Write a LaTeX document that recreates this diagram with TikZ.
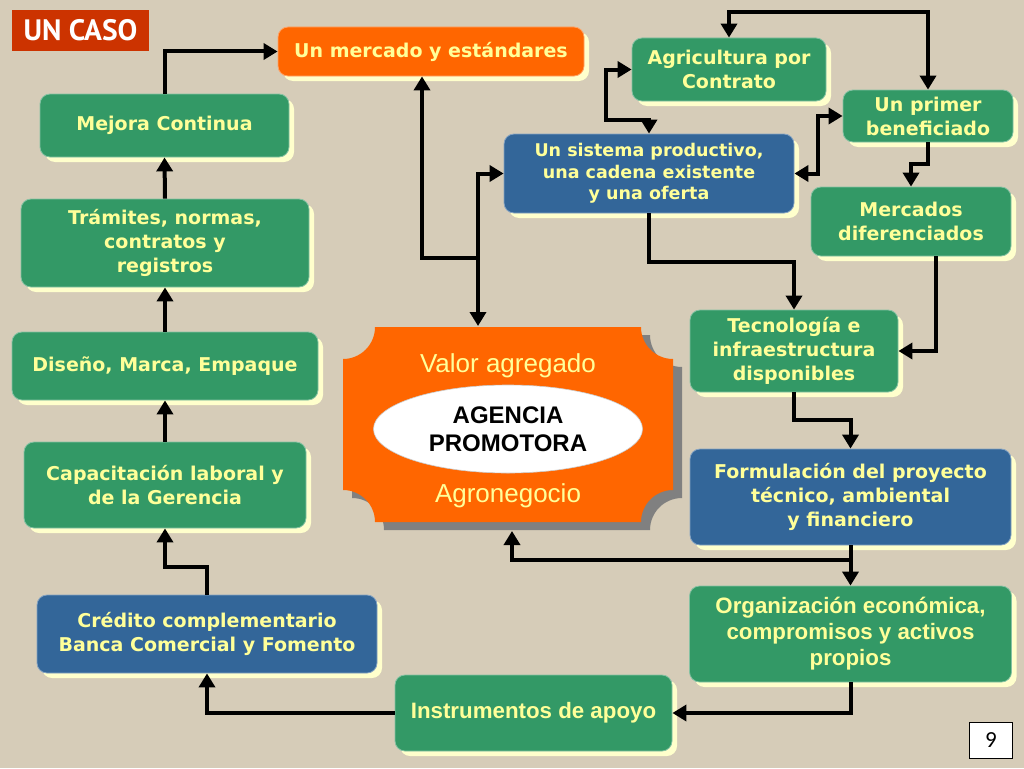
\documentclass[tikz,border=0pt]{standalone}
\usepackage{fontspec}
\setmainfont{DejaVu Sans}
\newfontfamily\arialf{Liberation Sans}
\newfontfamily\ptsans{PT Sans}
\newfontfamily\calib{Carlito}
\usetikzlibrary{arrows.meta,shadows,shapes.geometric}
\definecolor{bgc}{RGB}{214,204,184}
\definecolor{grn}{RGB}{51,153,102}
\definecolor{blu}{RGB}{51,102,153}
\definecolor{org}{RGB}{255,102,0}
\definecolor{txty}{RGB}{255,255,153}
\definecolor{shy}{RGB}{255,255,204}
\definecolor{redc}{RGB}{204,51,0}
\definecolor{shgray}{RGB}{128,128,128}
\begin{document}
\begin{tikzpicture}[x=1pt,y=-1pt,
  box/.style={rounded corners=10pt, line width=0.8pt, text=txty, align=center, inner sep=0pt,
    font=\bfseries\fontsize{19}{24}\selectfont,
    drop shadow={shadow xshift=5pt, shadow yshift=-5pt, fill=shy, opacity=1}},
  gbox/.style={box, fill=grn, draw=grn!60!white},
  bbox/.style={box, fill=blu, draw=blu!60!white},
  obox/.style={box, fill=org, draw=org!60!white},
  sz/.style 2 args={minimum width=#1pt, minimum height=#2pt},
  arialbox/.style={font=\arialf\bfseries\fontsize{22.3}{26}\selectfont},
  arr/.style={line width=4pt, -{Triangle[width=16pt,length=14pt]}},
  darr/.style={line width=4pt, {Triangle[width=16pt,length=14pt]}-{Triangle[width=16pt,length=14pt]}}
]
\useasboundingbox (0,0) rectangle (1024,768);
\fill[bgc] (0,0) rectangle (1024,768);

% title
\node[fill=redc, sz={137}{41}, inner sep=0pt, text=white,
      font=\ptsans\bfseries\fontsize{29.5}{30}\selectfont] (caso) at (80.5,30.5) {UN CASO};

% boxes
\node[obox, sz={306}{49}] (merc) at (431,51.5) {Un mercado y estándares};
\node[gbox, sz={194}{63}] (agri) at (729,69.5) {Agricultura por\\Contrato};
\node[gbox, sz={170}{52}] (prim) at (928,116) {Un primer\\beneficiado};
\node[bbox, sz={290}{79}, font=\bfseries\fontsize{17.5}{21.5}\selectfont] (sist) at (649,173.5)
  {Un sistema productivo,\\una cadena existente\\y una oferta};
\node[gbox, sz={200}{69}] (mdif) at (911,221.5) {Mercados\\diferenciados};
\node[gbox, sz={249}{63}] (mej) at (164.5,125.5) {Mejora Continua};
\node[gbox, sz={288}{88}] (tram) at (165,243) {Trámites, normas,\\contratos y\\registros};
\node[gbox, sz={306}{68}] (dis) at (165,366) {Diseño, Marca, Empaque};
\node[gbox, sz={282}{86}] (cap) at (165,485) {Capacitación laboral y\\de la Gerencia};
\node[bbox, sz={340}{78}] (cred) at (207,634) {Crédito complementario\\Banca Comercial y Fomento};
\node[gbox, sz={277}{76}, arialbox] (inst) at (533.5,713) {Instrumentos de apoyo};
\node[gbox, sz={322}{96}, arialbox] (orgn) at (850.5,634) {Organización económica,\\compromisos y activos\\propios};
\node[bbox, sz={321}{96}] (form) at (850.5,497) {Formulación del proyecto\\técnico, ambiental\\y financiero};
\node[gbox, sz={208}{82}] (tec) at (794,351) {Tecnología e\\infraestructura\\disponibles};
\node[draw=black, line width=1pt, fill=white, sz={43}{36}, inner sep=0pt,
      font=\calib\fontsize{23}{24}\selectfont] (nine) at (991,740) {9};

% central shape
\def\Cxa{343}\def\Cya{327}\def\Cxb{673}\def\Cyb{522}\def\Crad{32}
\fill[shgray, shift={(9,8)}] (\Cxa,\Cya+\Crad) arc[start angle=90,end angle=0,radius=\Crad]
  -- (\Cxb-\Crad,\Cya) arc[start angle=180,end angle=90,radius=\Crad]
  -- (\Cxb,\Cyb-\Crad) arc[start angle=270,end angle=180,radius=\Crad]
  -- (\Cxa+\Crad,\Cyb) arc[start angle=0,end angle=-90,radius=\Crad] -- cycle;
\fill[org] (\Cxa,\Cya+\Crad) arc[start angle=90,end angle=0,radius=\Crad]
  -- (\Cxb-\Crad,\Cya) arc[start angle=180,end angle=90,radius=\Crad]
  -- (\Cxb,\Cyb-\Crad) arc[start angle=270,end angle=180,radius=\Crad]
  -- (\Cxa+\Crad,\Cyb) arc[start angle=0,end angle=-90,radius=\Crad] -- cycle;
\node[sz={330}{195}, inner sep=0pt] (ctr) at (508,424.5) {};
\node[anchor=base, text=txty, font=\arialf\fontsize{26}{30}\selectfont] (va) at (508,372) {Valor agregado};
\node[anchor=base, text=txty, font=\arialf\fontsize{26}{30}\selectfont] (agn) at (508,502) {Agronegocio};
\node[ellipse, fill=white, draw=gray!40, line width=0.6pt, sz={269}{88}, inner sep=0pt, align=center,
      font=\arialf\bfseries\fontsize{24}{28}\selectfont] (agencia) at (508,429) {AGENCIA\\PROMOTORA};

% connectors
\draw[arr] (mej.north) |- (merc.west);
\draw[arr] (tram.north) -- (mej.south);
\draw[arr] (dis.north) -- (tram.south);
\draw[arr] (cap.north) -- (dis.south);
\draw[arr] (cred.north) -- ++(0,-28) -| (cap.south);
\draw[arr] (inst.west) -| (cred.south);
\draw[arr] (orgn.south) |- (inst.east);
\draw[arr] (form.south) -- (orgn.north);
\coordinate (jB) at (850.5,560);
\coordinate (cbot) at (512,531);
\draw[arr] (jB) -| (cbot);
\draw[arr] (tec.south) -- ++(0,28) -| (form.north);
\draw[arr] (sist.south) -- ++(0,49) -| (tec.north);
\draw[arr] ([xshift=25pt]mdif.south) |- (tec.east);
\draw[arr] (prim.south) -- ++(0,22) -| (mdif.north);
\draw[darr] (agri.north) -- ++(0,-26) -| (prim.north);
\draw[darr] (agri.west) -- ++(-26,0) -- ++(0,50) -| (sist.north);
\draw[darr] (prim.west) -- ++(-25,0) |- (sist.east);
\coordinate (jA) at (478,258);
\coordinate (ctop) at (478,326);
\draw[arr] (jA) -| ([xshift=-9pt]merc.south);
\draw[arr] (jA) -- (ctop);
\draw[arr] (jA) |- (sist.west);
\end{tikzpicture}
\end{document}
